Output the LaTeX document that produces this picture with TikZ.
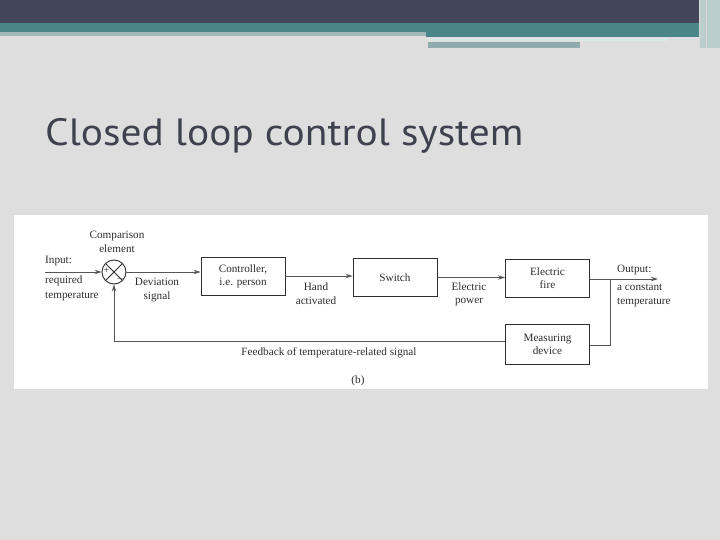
\documentclass[tikz,border=0pt]{standalone}
\usepackage{fontspec}
\setmainfont{Liberation Serif}
\newfontfamily\titlefont{PT Sans}
\usetikzlibrary{arrows.meta}
\definecolor{bg}{HTML}{DEDEDE}
\definecolor{darkbar}{HTML}{43455A}
\definecolor{teal}{HTML}{4A8589}
\definecolor{paleteal}{HTML}{A3B8BA}
\definecolor{greyteal}{HTML}{8FABAD}
\definecolor{titlecol}{HTML}{40414F}
\definecolor{ink}{HTML}{2E2E2E}
\definecolor{lineink}{HTML}{555555}
\tikzset{
  blk/.style={draw=ink, line width=0.9pt, minimum width=84pt, minimum height=38pt, inner sep=1pt, align=center, font=\fontsize{11.2}{13}\selectfont, text=ink},
  lbl/.style={align=center, font=\fontsize{11.2}{13.5}\selectfont, text=ink, inner sep=0pt},
  lbll/.style={align=left, font=\fontsize{11.2}{13.5}\selectfont, text=ink, inner sep=0pt, anchor=north west},
  conn/.style={draw=lineink, line width=0.9pt},
  arr/.style={conn, -{Stealth[length=7pt,width=4.5pt]}}
}
\begin{document}
\begin{tikzpicture}[x=1pt,y=-1pt]
\useasboundingbox (0,0) rectangle (720,540);
\fill[bg] (0,0) rectangle (720,540);
% header
\fill[darkbar] (0,0) rectangle (720,23);
\fill[teal] (0,23) rectangle (720,32);
\fill[paleteal] (0,32) rectangle (426,36);
\fill[teal] (426,32) rectangle (700,37);
\fill[white!80!teal] (428,38) rectangle (668,41);
\fill[greyteal] (428,42) rectangle (580,48);
\fill[greyteal!60!white] (700,0) rectangle (720,48);
\draw[white!70!gray, line width=0.8pt] (699,0) -- (699,48);
\draw[white!70!gray, line width=0.8pt] (706,0) -- (706,48);
% title
\node[anchor=base west, inner sep=0pt, text=titlecol, xscale=1.09, font=\titlefont\fontsize{38}{42}\selectfont] (title) at (45,146) {Closed loop control system};
% image panel
\fill[white] (14,215) rectangle (708,389);
% comparison element
\node[circle, draw=ink, line width=0.9pt, minimum size=24pt, inner sep=0pt] (cmp) at (114,272) {};
\draw[conn, draw=ink] (cmp.north west) -- (cmp.south east);
\draw[conn, draw=ink] (cmp.north east) -- (cmp.south west);
\node[lbl, font=\fontsize{10}{10}\selectfont] (plus) at (106.5,271) {+};
\node[lbl, font=\fontsize{10}{10}\selectfont] (minus) at (120,279) {$-$};
\node[lbl] (cmplbl) at (117,242) {Comparison\\element};
% boxes
\node[blk] (ctrl) at (243,276) {Controller,\\i.e. person};
\node[blk] (sw) at (395,277.5) {Switch};
\node[blk] (fire) at (547.5,278.5) {Electric\\fire};
\node[blk, minimum height=40pt] (meas) at (547.5,344) {Measuring\\device};
% input
\coordinate (inp) at (45,272);
\node[lbll] (inlbl) at (45,256) {Input:};
\node[lbll, font=\fontsize{11.2}{15}\selectfont] (inlbl2) at (45,276) {required\\temperature};
\draw[arr] (inp) -- (cmp.west);
% forward path
\draw[arr] (cmp.east) -- (cmp.east -| ctrl.west);
\node[lbl, font=\fontsize{11.2}{14}\selectfont] (dev) at (157,290) {Deviation\\signal};
\draw[arr] (ctrl.east) -- (ctrl.east -| sw.west);
\node[lbl] (hand) at (316,293.5) {Hand\\activated};
\draw[arr] (sw.east) -- (sw.east -| fire.west);
\node[lbl] (pow) at (469,294.5) {Electric\\power};
% output
\coordinate (outend) at (658,279);
\coordinate (branch) at (610,279);
\draw[arr] (fire.east |- outend) -- (outend);
\node[lbll] (outlbl) at (617,265) {Output:};
\node[lbll, font=\fontsize{11.2}{14}\selectfont] (outlbl2) at (617,284) {a constant\\temperature};
% feedback
\coordinate (fbcorner) at (610,345);
\draw[conn] (branch) -- (fbcorner) -- (fbcorner -| meas.east);
\coordinate (fbleft) at (114,341);
\draw[conn] (meas.west |- fbleft) -- (fbleft);
\draw[arr] (fbleft) -- (cmp.south);
\node[lbl] (fblbl) at (329,353) {Feedback of temperature-related signal};
\node[lbl] (b) at (358,381) {(b)};
\end{tikzpicture}
\end{document}
